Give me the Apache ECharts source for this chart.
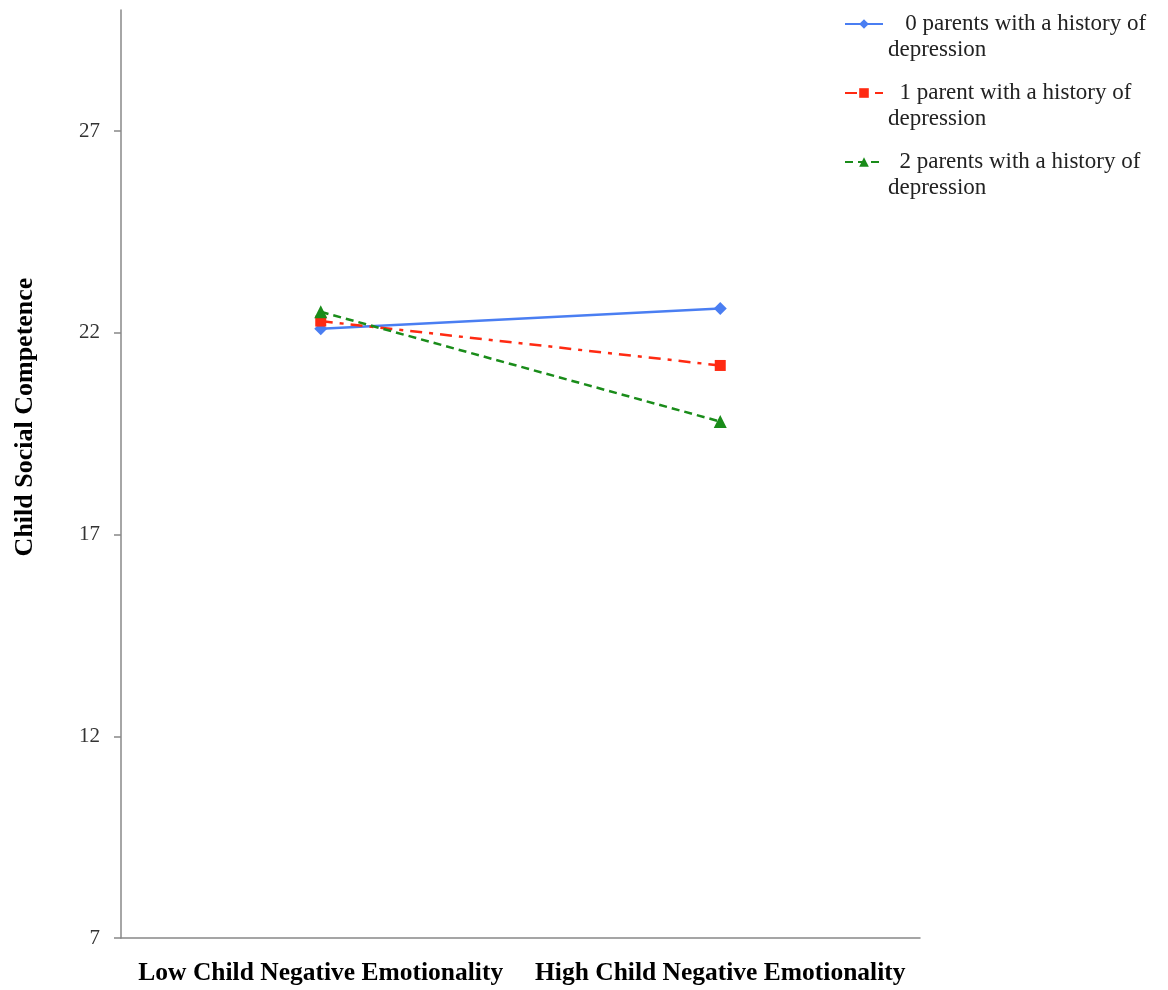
<!DOCTYPE html>
<html><head><meta charset="utf-8">
<script src="https://cdn.jsdelivr.net/npm/echarts@6/dist/echarts.min.js"></script>
<style>html,body{margin:0;padding:0;background:#fff}#c{width:1168px;height:990px}</style>
</head><body><div id="c"></div>
<script>
const categories = ['Low Child Negative Emotionality', 'High Child Negative Emotionality'];
const seriesNames = ['0 parents with a history of depression', '1 parent with a history of depression', '2 parents with a history of depression'];
const zeroParents = [22.10, 22.60];
const oneParent = [22.29, 21.19];
const twoParents = [22.52, 19.80];
const yTicks = [7, 12, 17, 22, 27];
const yTitle = 'Child Social Competence';

const serif = '"Liberation Serif", "DejaVu Serif", serif';
const chart = echarts.init(document.getElementById('c'));
const legendLabels = {};
legendLabels[seriesNames[0]] = '\n   0 parents with a history of\ndepression';
legendLabels[seriesNames[1]] = '\n  1 parent with a history of\ndepression';
legendLabels[seriesNames[2]] = '\n  2 parents with a history of\ndepression';

chart.setOption({
  animation: false,
  backgroundColor: '#fff',
  grid: {left: 121, right: 248, top: 10, bottom: 52, containLabel: false},
  legend: {
    orient: 'vertical', left: 839, top: -20, itemGap: -9, itemWidth: 38, itemHeight: 12,
    formatter: n => legendLabels[n],
    textStyle: {fontFamily: serif, fontSize: 23, color: '#222', lineHeight: 26},
    data: seriesNames
  },
  xAxis: {
    type: 'category', data: categories, boundaryGap: true,
    axisLine: {lineStyle: {color: '#888', width: 1.5}},
    axisTick: {show: false},
    axisLabel: {fontFamily: serif, fontSize: 25.5, fontWeight: 'bold', color: '#000', margin: 22, interval: 0},
    splitLine: {show: false}
  },
  yAxis: {
    type: 'value', min: 7, max: 30, interval: 5,
    axisLine: {show: true, lineStyle: {color: '#888', width: 1.5}},
    axisTick: {show: true, length: 7, customValues: yTicks, lineStyle: {color: '#888', width: 1.5}},
    axisLabel: {fontFamily: serif, fontSize: 21, color: '#333', margin: 21, customValues: yTicks},
    splitLine: {show: false}
  },
  graphic: [{
    type: 'text', x: 25, y: 417, rotation: Math.PI / 2,
    style: {text: yTitle, fontFamily: serif, fontSize: 26, fontWeight: 'bold', fill: '#000', align: 'center', verticalAlign: 'middle'}
  }],
  series: [
    {name: seriesNames[0], type: 'line', data: zeroParents, symbol: 'diamond', symbolSize: 13,
     itemStyle: {color: '#4a7ef2'}, lineStyle: {color: '#4a7ef2', width: 2.5, type: 'solid'}},
    {name: seriesNames[1], type: 'line', data: oneParent, symbol: 'rect', symbolSize: 11,
     itemStyle: {color: '#ff2a12'}, lineStyle: {color: '#ff2a12', width: 2.5, type: [12, 7, 4, 7]}},
    {name: seriesNames[2], type: 'line', data: twoParents, symbol: 'triangle', symbolSize: 13,
     itemStyle: {color: '#1a8c1a'}, lineStyle: {color: '#1a8c1a', width: 2.5, type: [8, 5]}}
  ]
});
</script></body></html>
